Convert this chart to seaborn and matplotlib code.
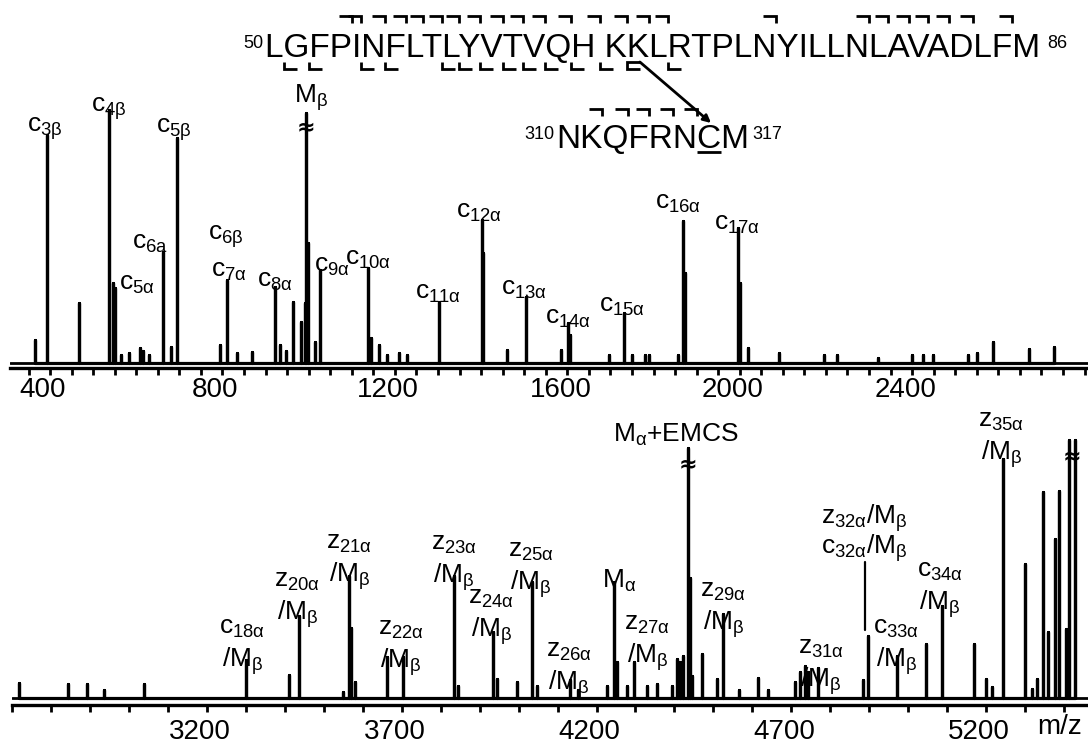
import numpy as np
import pandas as pd
import matplotlib
matplotlib.use("Agg")
import matplotlib.pyplot as plt
import matplotlib.transforms as mtrans
from matplotlib.ticker import MultipleLocator, FixedLocator
import seaborn as sns

# ---------------- data ----------------
# upper spectrum (m/z 300-2800)
top_mz = [365, 392, 467, 537, 545, 550, 564, 583, 609, 616, 630, 662, 680, 694,
          794, 810, 834, 869, 922, 934, 948, 964, 982, 991, 994, 998, 1015, 1026,
          1138, 1145, 1163, 1182, 1210, 1228, 1303, 1402, 1405, 1460, 1504, 1586,
          1602, 1606, 1697, 1732, 1750, 1780, 1790, 1857, 1869, 1873, 1996, 2001,
          2019, 2091, 2196, 2226, 2321, 2400, 2425, 2449, 2530, 2551, 2588, 2671, 2729]
top_int = [23, 228, 60, 253, 80, 75, 8, 10, 15, 12, 8, 111, 16, 225,
           18, 83, 10, 11, 76, 18, 12, 61, 41, 60, 250, 120, 21, 93,
           95, 25, 18, 8, 10, 8, 61, 143, 110, 13, 66, 13,
           40, 28, 8, 50, 8, 8, 8, 8, 142, 90, 135, 80,
           15, 10, 8, 8, 5, 8, 8, 8, 8, 10, 21, 14, 16]

# lower spectrum (m/z 2700-5460)
bot_mz = [2718, 2842, 2891, 2936, 3038, 3299, 3411, 3436, 3549, 3565, 3570, 3580,
          3662, 3703, 3834, 3844, 3934, 3945, 3996, 4034, 4047, 4132, 4152, 4227,
          4245, 4253, 4278, 4296, 4330, 4355, 4394, 4407, 4414, 4422, 4435, 4440,
          4445, 4471, 4509, 4525, 4566, 4615, 4640, 4710, 4722, 4735, 4743, 4769,
          4884, 4897, 4971, 5046, 5087, 5169, 5200, 5215, 5244, 5300, 5318, 5331,
          5346, 5359, 5377, 5387, 5405, 5413, 5428]
bot_int = [15, 14, 14, 8, 14, 38, 23, 82, 6, 122, 70, 16,
           41, 41, 122, 12, 66, 19, 16, 116, 12, 18, 8, 12,
           116, 36, 12, 36, 12, 14, 12, 39, 36, 42, 250, 120,
           22, 44, 19, 84, 8, 20, 8, 16, 26, 32, 26, 30,
           18, 62, 42, 54, 92, 54, 19, 11, 239, 134, 9, 19,
           206, 66, 159, 207, 69, 258, 258]

# off-scale (broken) peaks
top_broken_mz = [994]
top_broken_int = [250]
bot_broken_mz = [4435, 5420]
bot_broken_int = [250, 258]

# peak annotations, upper spectrum
top_labels = [r"c$_{\mathrm{3\beta}}$", r"c$_{\mathrm{4\beta}}$", r"c$_{\mathrm{5\beta}}$",
              r"M$_{\mathrm{\beta}}$", r"c$_{\mathrm{6a}}$", r"c$_{\mathrm{5\alpha}}$",
              r"c$_{\mathrm{6\beta}}$", r"c$_{\mathrm{7\alpha}}$", r"c$_{\mathrm{8\alpha}}$",
              r"c$_{\mathrm{9\alpha}}$", r"c$_{\mathrm{10\alpha}}$", r"c$_{\mathrm{11\alpha}}$",
              r"c$_{\mathrm{12\alpha}}$", r"c$_{\mathrm{13\alpha}}$", r"c$_{\mathrm{14\alpha}}$",
              r"c$_{\mathrm{15\alpha}}$", r"c$_{\mathrm{16\alpha}}$", r"c$_{\mathrm{17\alpha}}$"]
top_label_mz = [387, 536, 688, 1006, 631, 601, 807, 814, 922, 1054, 1138, 1299,
                1395, 1499, 1602, 1726, 1858, 1993]
top_label_y = [231, 251, 230, 260, 114, 73, 123, 86, 76, 91, 98, 64,
               145, 68, 39, 51, 154, 133]

# peak annotations, lower spectrum (first line, optional second line)
bot_labels = [r"c$_{\mathrm{18\alpha}}$", r"z$_{\mathrm{20\alpha}}$", r"z$_{\mathrm{21\alpha}}$",
              r"z$_{\mathrm{22\alpha}}$", r"z$_{\mathrm{23\alpha}}$", r"z$_{\mathrm{24\alpha}}$",
              r"z$_{\mathrm{25\alpha}}$", r"z$_{\mathrm{26\alpha}}$", r"M$_{\mathrm{\alpha}}$",
              r"z$_{\mathrm{27\alpha}}$", r"M$_{\mathrm{\alpha}}$+EMCS", r"z$_{\mathrm{29\alpha}}$",
              r"z$_{\mathrm{31\alpha}}$", r"z$_{\mathrm{32\alpha}}$/M$_{\mathrm{\beta}}$",
              r"c$_{\mathrm{32\alpha}}$/M$_{\mathrm{\beta}}$", r"c$_{\mathrm{33\alpha}}$",
              r"c$_{\mathrm{34\alpha}}$", r"z$_{\mathrm{35\alpha}}$"]
bot_label2 = [r"/M$_{\mathrm{\beta}}$"] * 8 + [""] + [r"/M$_{\mathrm{\beta}}$", "",
              r"/M$_{\mathrm{\beta}}$", r"/M$_{\mathrm{\beta}}$", "", "",
              r"/M$_{\mathrm{\beta}}$", r"/M$_{\mathrm{\beta}}$", r"/M$_{\mathrm{\beta}}$"]
bot_label_mz = [3291, 3432, 3565, 3698, 3834, 3930, 4032, 4129, 4259, 4331, 4404,
                4526, 4776, 4887, 4887, 4970, 5082, 5240]
bot_label_y = [64, 111, 149, 63, 148, 94, 141, 41, 110, 68, 256, 101, 44, 174,
               144, 64, 121, 271]

top_ticks = [400, 800, 1200, 1600, 2000, 2400]
bot_ticks = [3200, 3700, 4200, 4700, 5200]

# peptide sequences
seq1 = "LGFPINFLTLYVTVQH KKLRTPLNYILLNLAVADLFM"
seq1_start, seq1_end = "50", "86"
seq2 = "NKQFRNCM"
seq2_start, seq2_end = "310", "317"
seq1_top_marks = [4, 5, 6, 7, 8, 9, 10, 11, 12, 13, 14, 15, 16, 17, 18, 19,
                  24, 29, 30, 31, 32, 33, 34, 36]
seq1_bot_marks = [1, 2, 5, 6, 9, 10, 11, 12, 13, 14, 15, 16, 19]
seq1_link = 18
seq2_top_marks = [2, 3, 4, 5, 6]
seq2_link = 7

# ---------------- style ----------------
sns.set_style("white")
plt.rcParams["font.family"] = ["Liberation Sans", "DejaVu Sans"]
plt.rcParams["mathtext.fontset"] = "custom"
plt.rcParams["mathtext.rm"] = "Liberation Sans"
plt.rcParams["mathtext.it"] = "Liberation Sans:italic"
plt.rcParams["mathtext.bf"] = "Liberation Sans:bold"
plt.rcParams["text.color"] = "black"
plt.rcParams["xtick.color"] = "black"
plt.rcParams["xtick.labelcolor"] = "black"

W, H = 1088, 744
fig = plt.figure(figsize=(W / 100, H / 100), dpi=100)
fig.patch.set_facecolor("white")

LAB_FS = 19
TICK_FS = 20


def sticks(mz, inten):
    xs, ys = [], []
    for m, h in sorted(zip(mz, inten)):
        xs += [m, m, m]
        ys += [0, h, 0]
    return pd.DataFrame({"mz": xs, "intensity": ys})


def style_axis(ax, xlim, ylim, ticks, minor, pad):
    ax.set_xlim(*xlim)
    ax.set_ylim(*ylim)
    ax.set_facecolor("none")
    for s in ["left", "right", "top"]:
        ax.spines[s].set_visible(False)
    ax.spines["bottom"].set_linewidth(2.4)
    ax.spines["bottom"].set_color("black")
    ax.set_yticks([])
    ax.xaxis.set_major_locator(FixedLocator(ticks))
    ax.xaxis.set_minor_locator(MultipleLocator(minor))
    ax.tick_params(axis="x", which="both", direction="out", length=5, width=2,
                   color="black", bottom=True)
    ax.tick_params(axis="x", which="major", labelsize=TICK_FS, pad=pad,
                   labelcolor="black")
    ax.set_xlabel("")
    ax.set_ylabel("")
    off = mtrans.ScaledTranslation(-7 / 100, 0, fig.dpi_scale_trans)
    for lab in ax.get_xticklabels():
        lab.set_transform(lab.get_transform() + off)


# upper spectrum
ax1 = fig.add_axes([10 / W, (H - 368) / H, 1078 / W, 288 / H])
sns.lineplot(data=sticks(top_mz, top_int), x="mz", y="intensity", sort=False,
             estimator=None, color="black", lw=2.3, ax=ax1)
ax1.axhline(0, color="black", lw=2)
style_axis(ax1, (307, 2808), (-5, 283), top_ticks, 50, 1.5)
for s, m, y in zip(top_labels, top_label_mz, top_label_y):
    ax1.text(m, y, s, fontsize=LAB_FS, ha="center", va="baseline")
for m, h in zip(top_broken_mz, top_broken_int):
    ax1.text(m, h - 14, "\u2248", fontsize=16, ha="center", va="center",
             fontweight="bold", family="DejaVu Sans")

# lower spectrum
ax2 = fig.add_axes([12 / W, (H - 705) / H, 1076 / W, 285 / H])
sns.lineplot(data=sticks(bot_mz, bot_int), x="mz", y="intensity", sort=False,
             estimator=None, color="black", lw=2.3, ax=ax2)
ax2.axhline(0, color="black", lw=2)
style_axis(ax2, (2699, 5462), (-7, 278), bot_ticks, 100, 5)
for s, s2, m, y in zip(bot_labels, bot_label2, bot_label_mz, bot_label_y):
    ax2.text(m, y, s, fontsize=LAB_FS, ha="center", va="baseline")
    if s2:
        ax2.text(m, y - 33, s2, fontsize=LAB_FS, ha="center", va="baseline")
for m, h in zip(bot_broken_mz, bot_broken_int):
    ax2.text(m, h - 16, "\u2248", fontsize=16, ha="center", va="center",
             fontweight="bold", family="DejaVu Sans")
# leader line of the c32/z32 label
ax2.plot([4890, 4890], [68, 136], color="black", lw=1.6)

# overlay in pixel coordinates for the sequence scheme
ov = fig.add_axes([0, 0, 1, 1])
ov.set_xlim(0, W)
ov.set_ylim(H, 0)
ov.axis("off")

SEQ_FS = 24
x1, b1 = 265, 57
t1 = ov.text(x1, b1, seq1, fontsize=SEQ_FS, ha="left", va="baseline")
x2, b2 = 556, 148
t2 = ov.text(x2, b2, seq2, fontsize=SEQ_FS, ha="left", va="baseline")

fig.canvas.draw()
rend = fig.canvas.get_renderer()


def residue_edges(tobj, s, x0):
    fp = tobj.get_fontproperties()
    out = []
    for i, ch in enumerate(s):
        if ch == " ":
            continue
        right = x0 + rend.get_text_width_height_descent(s[:i + 1], fp, ismath=False)[0]
        cw = rend.get_text_width_height_descent(ch, fp, ismath=False)[0]
        out.append((right - cw, right))
    return out


e1 = residue_edges(t1, seq1, x1)
e2 = residue_edges(t2, seq2, x2)


def boundary(e, k):
    if k >= len(e):
        return e[-1][1] + 2
    return 0.5 * (e[k - 1][1] + e[k][0])


ov.text(x1 - 2, b1 - 9, seq1_start, fontsize=13, ha="right", va="baseline")
ov.text(e1[-1][1] + 7, b1 - 9, seq1_end, fontsize=13, ha="left", va="baseline")
ov.text(x2 - 2, b2 - 9, seq2_start, fontsize=13, ha="right", va="baseline")
ov.text(e2[-1][1] + 3, b2 - 9, seq2_end, fontsize=13, ha="left", va="baseline")

mk = dict(color="black", lw=2, solid_joinstyle="miter", solid_capstyle="butt")
L = 13
for k in seq1_top_marks:
    b = boundary(e1, k)
    ov.plot([b - L, b, b], [16, 16, 23], **mk)
for k in seq1_bot_marks:
    b = boundary(e1, k)
    ov.plot([b, b, b + L], [62, 69, 69], **mk)
bl = boundary(e1, seq1_link - 1)
ov.plot([bl + L, bl, bl, bl + L], [62, 62, 69, 69], **mk)
for k in seq2_top_marks:
    b = boundary(e2, k)
    ov.plot([b - L, b, b], [109, 109, 116], **mk)
cl, cr = e2[seq2_link - 1]
ov.plot([cl, cr], [152, 152], **mk)
ov.annotate("", xy=(0.5 * (cl + cr) + 2, 123), xytext=(bl + L, 62),
            arrowprops=dict(arrowstyle="-|>", lw=2, color="black",
                            mutation_scale=11, shrinkA=0, shrinkB=0))

# m/z label
ov.text(1060, 734, "m/z", fontsize=TICK_FS, ha="center", va="baseline")

fig.savefig("out.png", dpi=100, facecolor="white")
